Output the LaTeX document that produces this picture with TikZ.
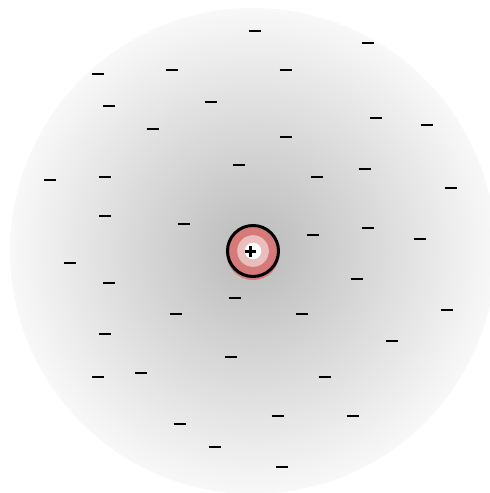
\documentclass[tikz,border=0pt]{standalone}
\usepackage{tikz}

\definecolor{cloudin}{RGB}{186,186,186}
\definecolor{cloudout}{RGB}{248,248,248}
\definecolor{nucred}{RGB}{213,122,121}
\definecolor{nucpink}{RGB}{235,190,190}
\pgfdeclareradialshading{cloudshade}{\pgfpoint{0bp}{0bp}}{color(0bp)=(cloudin); color(25bp)=(cloudout); color(50bp)=(cloudout)}

\tikzset{
  electron/.style={line width=2.2pt},
  charge/.style={line width=2.2pt}
}

\begin{document}
\begin{tikzpicture}[x=1pt,y=-1pt]
\useasboundingbox (0,0) rectangle (490,493);
\coordinate (atom) at (253,251);
% cloud of negative charge
\shade[shading=cloudshade] (atom) circle (243);
\foreach \ex/\ey in {255/31, 368/43, 98/74, 172/70, 286/70, 109/106, 211/102,
    153/129, 376/118, 427/125, 286/137, 239/165, 317/177, 365/169, 50/180,
    105/177, 451/188, 105/216, 184/224, 313/235, 368/228, 420/239, 70/263,
    109/283, 357/279, 235/298, 176/314, 302/314, 447/310, 105/334, 392/341,
    231/357, 98/377, 141/373, 325/377, 180/424, 278/416, 353/416, 215/447,
    282/467}
  \draw[electron] (\ex-6.3,\ey) -- (\ex+6.3,\ey);
% nucleus
\fill[nucred] (253,253.5) circle (26.5);
\fill[nucpink] (atom) circle (15.8);
\fill[white] (atom) circle (8.3);
\draw[line width=3pt] (atom) circle (25.5);
\draw[charge] (245,251.5) -- (255.7,251.5);
\draw[charge] (250.4,246) -- (250.4,257);
\end{tikzpicture}
\end{document}
